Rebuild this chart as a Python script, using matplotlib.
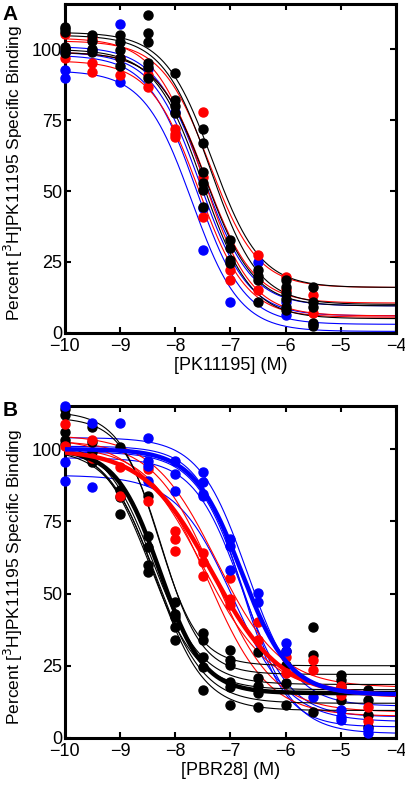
import numpy as np
import matplotlib
matplotlib.use("Agg")
import matplotlib.pyplot as plt

plt.rcParams['font.family'] = ['Liberation Sans', 'DejaVu Sans']

# ---------- Panel A: [PK11195] displacement ----------
a_blue = {
    -10: [92.6, 89.8, 99],
    -9.5: [99.6],
    -9: [109, 88.4],
    -8.5: [93],
    -8: [78],
    -7.5: [44, 29.2],
    -7: [11],
    -6.5: [25],
    -6: [6.3, 11],
    -5.5: [3],
}
a_red = {
    -10: [105.5, 97],
    -9.5: [104, 95, 92],
    -9: [97, 91],
    -8.5: [91, 86.6],
    -8: [70, 69, 72],
    -7.5: [77.8, 55, 40.8],
    -7: [22, 18.7],
    -6.5: [27.5, 15],
    -6: [19.7, 15],
    -5.5: [13.4, 7],
}
a_black = {
    -10: [108, 107, 106, 100.7, 99.6, 98.6],
    -9.5: [105, 103, 100, 99],
    -9: [105, 102.5, 99.6, 97, 94],
    -8.5: [112, 105.6, 102.5, 95, 93.7, 90],
    -8: [91.5, 82, 80, 77.5],
    -7.5: [71.8, 66.9, 56.7, 52.8, 50.3, 44.4],
    -7: [32.7, 30, 25.7, 24.6],
    -6.5: [22, 20, 18.7, 11],
    -6: [18.7, 16, 14, 12, 9, 8],
    -5.5: [16.2, 11, 9, 3.5, 2.3],
}
# fitted curves: (top, bottom, logIC50, hill slope)
a_fit_blue = [(92.5, 0.5, -7.7, 1.0), (98, 3, -7.62, 1.0), (99, 6, -7.55, 1.0), (101, 9.5, -7.5, 1.0)]
a_fit_red = [(96, 5.5, -7.58, 1.0), (99, 10.5, -7.45, 1.0), (103, 16, -7.38, 1.0), (104, 6, -7.5, 1.0)]
a_fit_black = [(99, 9.5, -7.45, 1.0), (100, 5, -7.5, 1.0), (106, 16, -7.33, 1.0), (105, 10, -7.36, 1.0)]

# ---------- Panel B: [PBR28] displacement ----------
b_blue = {
    -10: [115, 95.5, 89],
    -9.5: [109, 86.8],
    -9: [109],
    -8.5: [104, 96, 94, 89],
    -8: [96, 91.3, 85.4],
    -7.5: [92, 88.5, 84.4, 83.7],
    -7: [68.8, 66.3, 58.3],
    -6.5: [50.3, 47],
    -6: [33, 30],
    -5.5: [14],
    -5: [9.7, 7.3, 6.3],
    -4.5: [1.7, 3],
}
b_red = {
    -10: [108.7, 101],
    -9.5: [103, 97],
    -9: [93.7, 83.7],
    -8.5: [93, 82],
    -8: [71.5, 68.8, 64.6],
    -7.5: [64.2, 61, 56],
    -7: [55.5, 48, 46],
    -6.5: [40, 34],
    -6: [28, 22.6],
    -5.5: [27, 23.6],
    -5: [18, 15],
    -4.5: [10.8, 6],
}
b_black = {
    -10: [114, 112, 106, 103, 101.7],
    -9.5: [107.6, 102.4, 99, 95.5],
    -9: [100.7, 86, 83.3, 77.4],
    -8.5: [83.7, 70, 66, 60, 57.6],
    -8: [47, 43, 42, 38.5, 34],
    -7.5: [36.5, 34, 28, 24.7, 16.7],
    -7: [30.6, 27, 25.3, 19.4, 17.7, 11.5],
    -6.5: [29.9, 20.8, 18, 15.6, 10.8],
    -6: [30, 25.3, 19, 11.5],
    -5.5: [38.5, 28.8, 9],
    -5: [21.9, 20, 17.7, 13.2],
    -4.5: [16.7, 13, 8, 3.8],
}
b_fit_blue = [(104, 11, -6.7, 1.0), (97, 7.3, -6.8, 1.0), (91, 5.6, -6.95, 0.85), (101, 3.8, -6.8, 1.1), (99, 1.5, -6.75, 1.0)]
b_fit_red = [(105, 17.5, -7.25, 0.75), (103, 9, -7.3, 0.8), (101, 7.5, -7.4, 0.8), (104, 15, -7.5, 0.7)]
b_fit_black = [(113, 25, -8.3, 1.2), (111, 22, -8.25, 1.2), (103, 18.5, -8.4, 1.0), (102, 16.7, -8.45, 1.0),
               (100, 12, -8.35, 1.0), (101, 9.5, -8.35, 1.0)]
b_fit_mean = {'blue': (100, 15, -6.8, 1.0), 'red': (100, 14.5, -7.33, 0.7), 'black': (100, 15.5, -8.28, 1.1)}

COL = {'blue': '#0000ff', 'red': '#ff0000', 'black': '#000000'}


def hill(x, p):
    top, bot, ic, h = p
    return bot + (top - bot) / (1 + 10 ** (h * (x - ic)))


def scatter(ax, pts, c):
    for x, ys in pts.items():
        ax.plot([x] * len(ys), ys, 'o', color=c, ms=6.5, mec=c, zorder=3, clip_on=False)


def style(ax, xlabel):
    ax.set_xlim(-10, -4)
    ax.set_xticks(range(-10, -3))
    ax.set_xticklabels(['\u2212%d' % abs(v) for v in range(-10, -3)])
    ax.set_yticks([0, 25, 50, 75, 100])
    ax.tick_params(direction='in', top=True, right=True, length=4, width=1.5, labelsize=13)
    ax.tick_params(axis='y', pad=2)
    ax.tick_params(axis='x', pad=4)
    for s in ax.spines.values():
        s.set_linewidth(2.2)
    ax.set_xlabel(xlabel, fontsize=13, labelpad=1)
    ax.set_ylabel('Percent [$^3$H]PK11195 Specific Binding', fontsize=12.5)
    ax.yaxis.set_label_coords(-0.12, 0.485)


xx = np.linspace(-10, -4, 300)

fig = plt.figure(figsize=(4.05, 7.85), dpi=100)
axA = fig.add_axes([0.160, 0.576, 0.818, 0.419])
axB = fig.add_axes([0.160, 0.060, 0.818, 0.423])

# panel A
for name, fits in [('blue', a_fit_blue), ('red', a_fit_red), ('black', a_fit_black)]:
    for p in fits:
        axA.plot(xx, hill(xx, p), color=COL[name], lw=0.8, zorder=2)
for name, pts in [('blue', a_blue), ('red', a_red), ('black', a_black)]:
    scatter(axA, pts, COL[name])
axA.set_ylim(0, 116)
style(axA, '[PK11195] (M)')

# panel B
for name, fits in [('blue', b_fit_blue), ('red', b_fit_red), ('black', b_fit_black)]:
    for p in fits:
        axB.plot(xx, hill(xx, p), color=COL[name], lw=0.8, zorder=2)
for name, pts in [('black', b_black), ('red', b_red), ('blue', b_blue)]:
    scatter(axB, pts, COL[name])
for name in ['black', 'red', 'blue']:
    axB.plot(xx, hill(xx, b_fit_mean[name]), color=COL[name], lw=3.2, zorder=4)
axB.set_ylim(0, 115)
style(axB, '[PBR28] (M)')

fig.text(0.007, 0.993, 'A', fontsize=15, fontweight='bold', va='top')
fig.text(0.007, 0.489, 'B', fontsize=15, fontweight='bold', va='top')

fig.savefig('out.png', dpi=100)
